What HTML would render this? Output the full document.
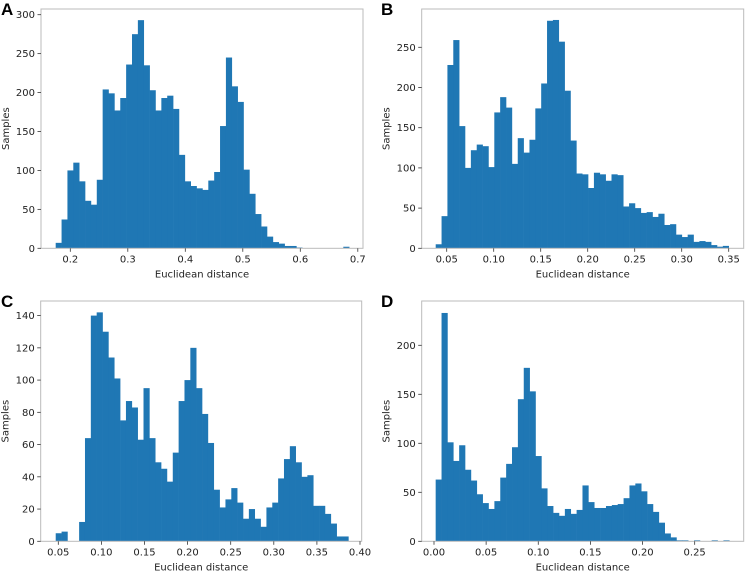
<!DOCTYPE html>
<html><head><meta charset="utf-8">
<style>
body{margin:0;background:#fff;font-family:"Liberation Sans","DejaVu Sans",sans-serif;}
svg text{font-family:"DejaVu Sans","Liberation Sans",sans-serif;fill:#222;}
svg text.plab{font-family:"Liberation Sans",sans-serif;fill:#000;}
</style></head>
<body>
<svg id="chart" width="746" height="572" viewBox="0 0 746 572" xmlns="http://www.w3.org/2000/svg"></svg>
<script>
const countsA=[7,37,100,110,86,61,56,88,204,199,177,193,236,275,293,235,203,177,193,196,179,120,86,80,77,75,87,98,157,245,208,188,101,70,44,28,15,8,6,3,3,1,0,0,0,0,0,0,0,2];
const rangeA=[0.1746,0.685];
const xTicksA=[0.2,0.3,0.4,0.5,0.6,0.7];
const xLabelsA=["0.2","0.3","0.4","0.5","0.6","0.7"];
const yTicksA=[0,50,100,150,200,250,300];

const countsB=[5,40,228,259,152,100,122,129,127,101,169,188,175,105,137,119,135,174,205,283,284,257,196,134,93,92,75,94,92,84,92,91,52,56,50,44,45,39,43,29,30,17,14,17,8,9,8,4,2,3];
const rangeB=[0.0383,0.35];
const xTicksB=[0.05,0.10,0.15,0.20,0.25,0.30,0.35];
const xLabelsB=["0.05","0.10","0.15","0.20","0.25","0.30","0.35"];
const yTicksB=[0,50,100,150,200,250];

const countsC=[5,6,0,0,12,64,140,142,130,114,101,75,87,83,63,95,64,49,45,37,55,87,100,120,95,79,61,32,21,26,33,24,14,20,14,9,21,24,39,51,59,49,40,41,22,22,17,11,3,3];
const rangeC=[0.047,0.3865];
const xTicksC=[0.05,0.10,0.15,0.20,0.25,0.30,0.35,0.40];
const xLabelsC=["0.05","0.10","0.15","0.20","0.25","0.30","0.35","0.40"];
const yTicksC=[0,20,40,60,80,100,120,140];

const countsD=[63,233,101,82,98,73,62,48,39,33,41,65,79,96,145,177,153,87,54,36,29,26,33,28,32,57,40,34,34,36,37,38,44,57,59,51,38,30,19,8,4,1,1,0,1,0,0,1,0,1];
const rangeD=[0.0016,0.2832];
const xTicksD=[0.00,0.05,0.10,0.15,0.20,0.25];
const xLabelsD=["0.00","0.05","0.10","0.15","0.20","0.25"];
const yTicksD=[0,50,100,150,200];

const NS="http://www.w3.org/2000/svg";
const svg=document.getElementById('chart');
function mk(tag,attrs,parent){const e=document.createElementNS(NS,tag);for(const k in attrs)e.setAttribute(k,attrs[k]);(parent||svg).appendChild(e);return e;}

function panel(cfg){
  const g=mk('g',{});
  
  
  const L=cfg.box[0],R=cfg.box[1],T=cfg.box[2],B=cfg.box[3];
  const xs=v=>cfg.xa[1]+(v-cfg.xa[0])*cfg.xa[2];
  const ys=v=>B-v*cfg.ypx;
  const n=cfg.counts.length,w=(cfg.range[1]-cfg.range[0])/n;
  cfg.counts.forEach((c,i)=>{
    if(c<=0)return;
    const x0=xs(cfg.range[0]+i*w),x1=xs(cfg.range[0]+(i+1)*w);
    const r=mk('rect',{x:x0,y:ys(c),width:x1-x0+0.3,height:B-ys(c),fill:'#1f77b4'},g);
    
    
  });
  const f=mk('rect',{x:L,y:T,width:R-L,height:B-T,fill:'none',stroke:'#bbb','stroke-width':1},g);
  
  
  cfg.xt.forEach((v,i)=>{
    const x=xs(v);
    mk('line',{x1:x,x2:x,y1:B,y2:B+3.5,stroke:'#333','stroke-width':0.8},g);
    const t=mk('text',{x:x,y:B+14,'text-anchor':'middle','font-size':10},g);
    t.textContent=cfg.xl[i];
    
    
  });
  cfg.yt.forEach(v=>{
    const y=ys(v);
    mk('line',{x1:L-3.5,x2:L,y1:y,y2:y,stroke:'#333','stroke-width':0.8},g);
    const t=mk('text',{x:L-6,y:y+3.5,'text-anchor':'end','font-size':10},g);
    t.textContent=String(v);
    
    
  });
  const xt=mk('text',{x:(L+R)/2,y:B+29,'text-anchor':'middle','font-size':10},g);
  xt.textContent='Euclidean distance';
  
  
  const yc=(T+B)/2,yx=L-32;
  const yt=mk('text',{x:yx,y:yc,'text-anchor':'middle','font-size':10,transform:'rotate(-90 '+yx+' '+yc+')'},g);
  yt.textContent='Samples';
  
  
  const lt=mk('text',{x:cfg.lp[0],y:cfg.lp[1],'font-size':17,'font-weight':'bold','class':'plab'},g);
  lt.textContent=cfg.letter;
  
  
}
panel({letter:'A',box:[41,363,9,248.3],xa:[0.2,70.3,575],ypx:233.6/300,counts:countsA,range:rangeA,xt:xTicksA,xl:xLabelsA,yt:yTicksA,lp:[1,15]});
panel({letter:'B',box:[421.7,743.7,9,248.3],xa:[0.05,446.7,940],ypx:201/250,counts:countsB,range:rangeB,xt:xTicksB,xl:xLabelsB,yt:yTicksB,lp:[381,15]});
panel({letter:'C',box:[40.7,361.7,301,541.3],xa:[0.05,58.3,862],ypx:225.7/140,counts:countsC,range:rangeC,xt:xTicksC,xl:xLabelsC,yt:yTicksC,lp:[1,307]});
panel({letter:'D',box:[421.7,743.7,301,541.3],xa:[0.0,434,1042.7],ypx:196/200,counts:countsD,range:rangeD,xt:xTicksD,xl:xLabelsD,yt:yTicksD,lp:[381,307]});
</script>
</body></html>
